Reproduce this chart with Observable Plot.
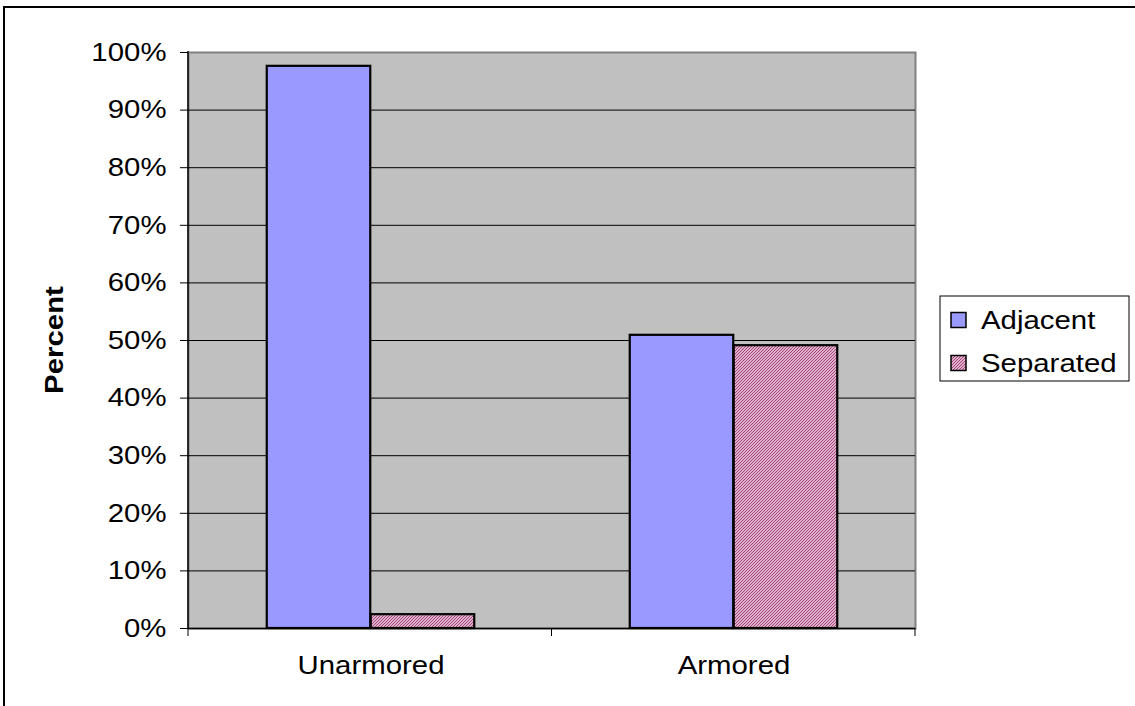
<!DOCTYPE html>
<html>
<head>
<meta charset="utf-8">
<script src="https://cdn.jsdelivr.net/npm/d3@7"></script>
<script src="https://cdn.jsdelivr.net/npm/@observablehq/plot@0.6"></script>
<style>
  html, body { margin: 0; padding: 0; background: #fff; overflow: hidden; }
  #chart svg { display: block; }
</style>
</head>
<body>
<div id="chart"></div>
<script>
// Share of cases by cable arrangement
const categories = ["Unarmored", "Armored"];
const series = ["Adjacent", "Separated"];
const adjacent = [0.976, 0.509];
const separated = [0.024, 0.491];
const yTicks = [0, 0.1, 0.2, 0.3, 0.4, 0.5, 0.6, 0.7, 0.8, 0.9, 1.0];
const seriesColors = ["#9999ff", "url(#hatch)"];

const W = 1135, H = 706;
const margin = {left: 188, right: 220, top: 52, bottom: 78};
const font = "'Liberation Sans', Arial, sans-serif";
const stretch = "scale(1.13,1)";

const rows = categories.flatMap((c, i) => [
  {category: c, series: series[0], value: adjacent[i]},
  {category: c, series: series[1], value: separated[i]}
]);

// Two bars per category, side by side in the middle of each band
const band = (W - margin.left - margin.right) / categories.length;
const barW = 104;
const outer = (band - 2 * barW) / 2;

const plot = Plot.plot({
  width: W,
  height: H,
  marginLeft: margin.left,
  marginRight: margin.right,
  marginTop: margin.top,
  marginBottom: margin.bottom,
  style: {fontFamily: font, fontSize: "26px", color: "#000", background: "transparent", overflow: "visible"},
  x: {domain: categories, padding: 0, axis: null},
  y: {domain: [0, 1], axis: null},
  marks: [
    Plot.frame({fill: "#c0c0c0", stroke: "#808080", strokeWidth: 2}),
    Plot.gridY(yTicks.slice(1, -1), {stroke: "#000", strokeOpacity: 1, strokeWidth: 1}),
    Plot.barY(rows.filter(d => d.series === series[0]), {
      x: "category", y: "value", fill: seriesColors[0], stroke: "#000", strokeWidth: 2.2,
      insetLeft: outer, insetRight: band - outer - barW
    }),
    Plot.barY(rows.filter(d => d.series === series[1]), {
      x: "category", y: "value", fill: seriesColors[1], stroke: "#000", strokeWidth: 2.2,
      insetLeft: band - outer - barW, insetRight: outer
    }),
    Plot.ruleY([0], {stroke: "#000", strokeWidth: 1.5}),
    Plot.axisY(yTicks, {tickFormat: d3.format(".0%"), tickSize: 8, tickPadding: 14, label: null, stroke: "#000"}),
    Plot.axisX(categories, {tickSize: 0, tickPadding: 27, label: null})
  ]
});

document.getElementById("chart").appendChild(plot);

const svg = d3.select(plot);
const xs = plot.scale("x");
const ys = plot.scale("y");
const x0 = xs.range[0], x1 = xs.range[1];
const yTop = Math.min(...ys.range), yBottom = Math.max(...ys.range);

// Fine diagonal hatch used by the "Separated" series
const defs = svg.insert("defs", ":first-child");
const pat = defs.append("pattern")
  .attr("id", "hatch").attr("patternUnits", "userSpaceOnUse")
  .attr("width", 3).attr("height", 3);
pat.append("rect").attr("width", 3).attr("height", 3).attr("fill", "#f6e2ee");
pat.append("path").attr("d", "M-1,1 l2,-2 M0,3 l3,-3 M2,4 l2,-2")
  .attr("stroke", "#a53a78").attr("stroke-width", 1.1);

// Widen tick labels slightly
svg.selectAll("text").each(function () {
  const t = d3.select(this);
  const tr = t.attr("transform") || "";
  t.attr("transform", (tr + " " + stretch).trim());
});

const deco = svg.append("g").attr("text-anchor", "start");

// Value axis line
deco.append("line")
  .attr("x1", x0).attr("x2", x0).attr("y1", yTop - 1).attr("y2", yBottom)
  .attr("stroke", "#000").attr("stroke-width", 1.5);

// Category boundary ticks
const step = (x1 - x0) / categories.length;
d3.range(categories.length + 1).forEach(i => {
  const x = x0 + i * step;
  deco.append("line")
    .attr("x1", x).attr("x2", x).attr("y1", yBottom).attr("y2", yBottom + 8)
    .attr("stroke", "#000").attr("stroke-width", 1);
});

// Value axis title
deco.append("text")
  .attr("transform", `translate(63,${(yTop + yBottom) / 2}) rotate(-90) ${stretch}`)
  .attr("text-anchor", "middle")
  .attr("font-family", font).attr("font-size", 26).attr("font-weight", "bold")
  .text("Percent");

// Legend
const lg = deco.append("g").attr("transform", "translate(940,296)");
lg.append("rect").attr("width", 189).attr("height", 85)
  .attr("fill", "#fff").attr("stroke", "#000").attr("stroke-width", 1);
series.forEach((s, i) => {
  const cy = 24 + i * 43;
  lg.append("rect").attr("x", 11).attr("y", cy - 7.5).attr("width", 15).attr("height", 15)
    .attr("fill", seriesColors[i]).attr("stroke", "#000").attr("stroke-width", 1.5);
  lg.append("text").attr("transform", `translate(41,${cy + 9}) ${stretch}`)
    .attr("text-anchor", "start")
    .attr("font-family", font).attr("font-size", 26)
    .text(s);
});

// Outer chart border
deco.append("path").attr("d", `M4,${H} V7 H${W}`)
  .attr("fill", "none").attr("stroke", "#000").attr("stroke-width", 2);
</script>
</body>
</html>
